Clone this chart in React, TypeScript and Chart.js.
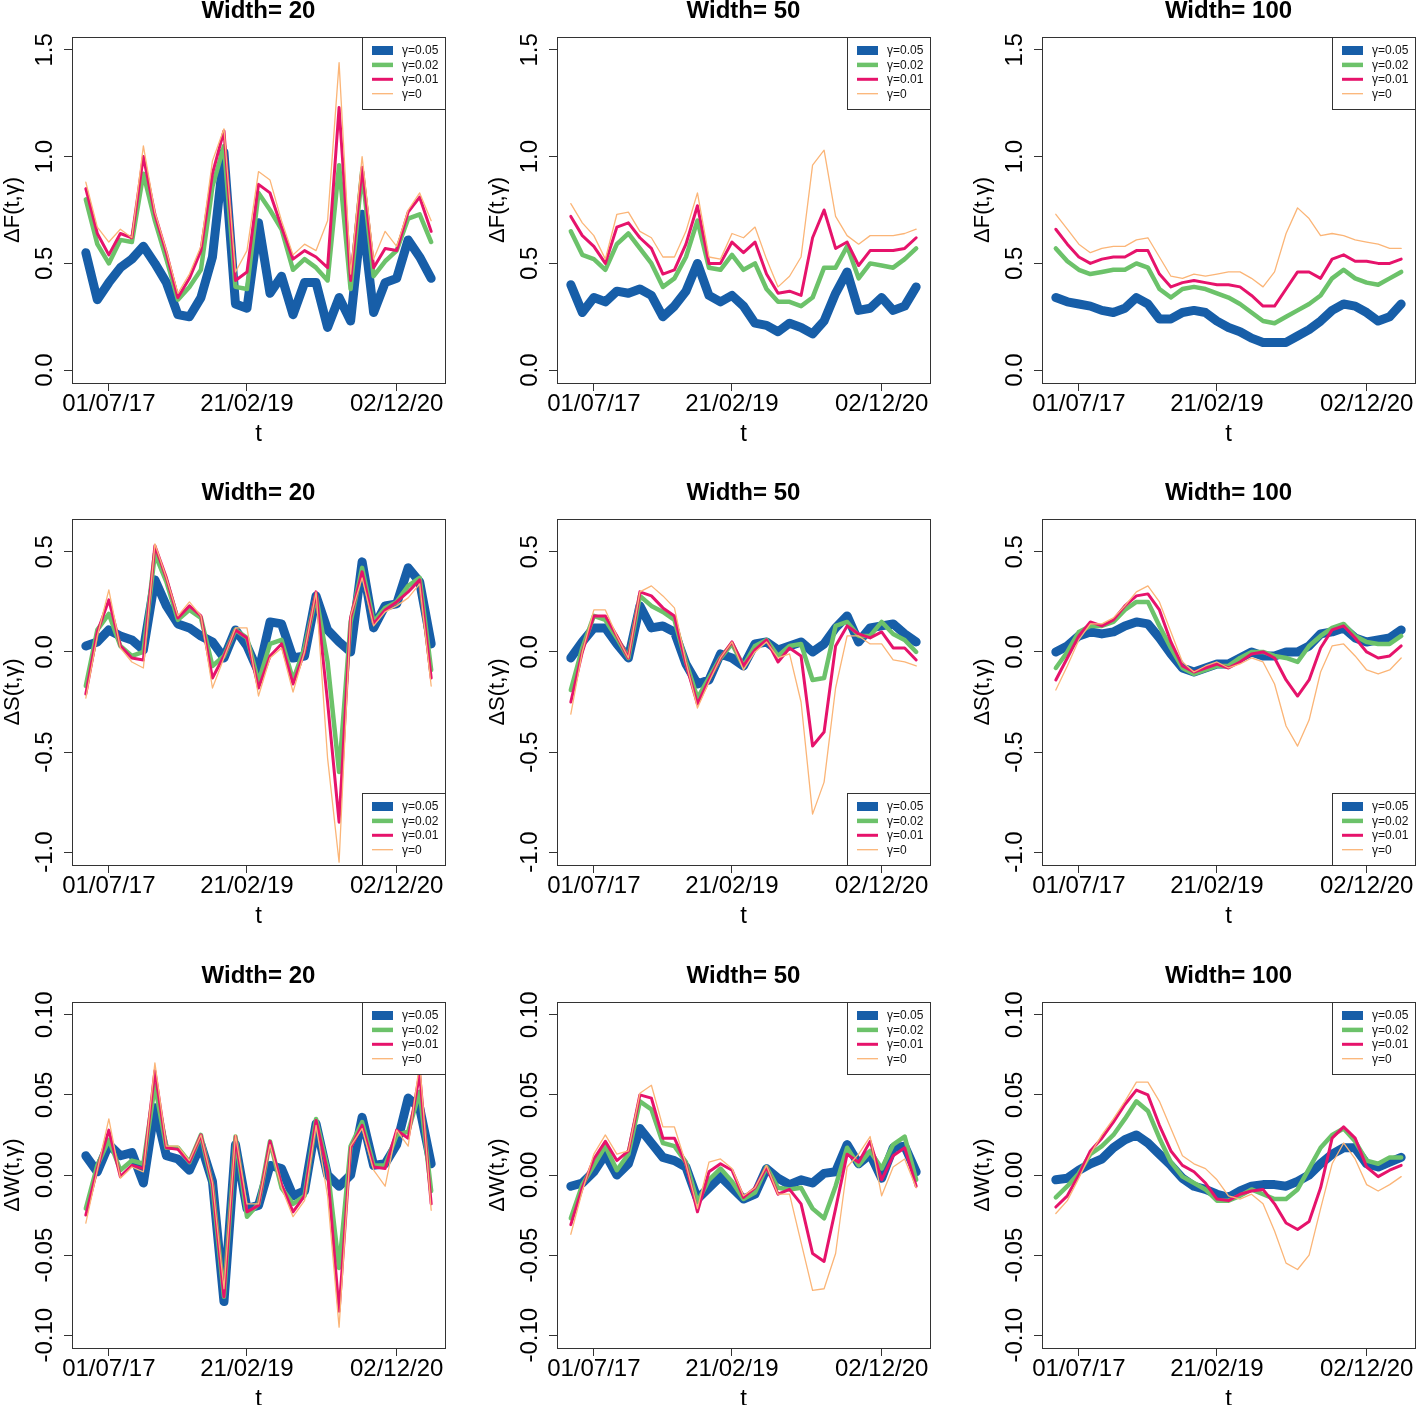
import React, { useEffect, useRef } from 'react';
import { Chart, registerables } from 'chart.js';

Chart.register(...registerables);

const FONT = '"Liberation Sans", Arial, Helvetica, sans-serif';
Chart.defaults.font.family = FONT;
Chart.defaults.color = '#000';

// ---------- categories / tick labels ----------
const T = [0, 1, 2, 3, 4, 5, 6, 7, 8, 9, 10, 11, 12, 13, 14, 15, 16, 17, 18, 19, 20, 21, 22, 23, 24, 25, 26, 27, 28, 29, 30];
const X_TICK_POS = [2, 14, 27];
const X_TICK_LABELS = ['01/07/17', '21/02/19', '02/12/20'];
const LEGEND_LABELS = ['γ=0.05', 'γ=0.02', 'γ=0.01', 'γ=0'];
const PANEL_TITLES = ['Width= 20', 'Width= 50', 'Width= 100'];
const Y_TITLES = ['ΔF(t,γ)', 'ΔS(t,γ)', 'ΔW(t,γ)'];
const X_TITLE = 't';

const F_TICKS = [0, 0.5, 1, 1.5];
const F_TICK_LABELS = ['0.0', '0.5', '1.0', '1.5'];
const F_LIM = [0, 1.5];
const S_TICKS = [-1, -0.5, 0, 0.5];
const S_TICK_LABELS = ['-1.0', '-0.5', '0.0', '0.5'];
const S_LIM = [-1, 0.6];
const W_TICKS = [-0.1, -0.05, 0, 0.05, 0.1];
const W_TICK_LABELS = ['-0.10', '-0.05', '0.00', '0.05', '0.10'];
const W_LIM = [-0.1, 0.1];

// ---------- ΔF ----------
const F20_G05 = [0.55, 0.33, 0.41, 0.48, 0.52, 0.58, 0.50, 0.41, 0.26, 0.25, 0.34, 0.53, 1.02, 0.31, 0.29, 0.69, 0.36, 0.44, 0.26, 0.41, 0.41, 0.20, 0.34, 0.23, 0.73, 0.27, 0.41, 0.43, 0.61, 0.53, 0.43];
const F20_G02 = [0.80, 0.59, 0.50, 0.61, 0.60, 0.92, 0.70, 0.52, 0.33, 0.39, 0.47, 0.86, 1.05, 0.39, 0.38, 0.83, 0.75, 0.66, 0.47, 0.52, 0.48, 0.42, 0.96, 0.38, 0.93, 0.44, 0.51, 0.56, 0.71, 0.73, 0.60];
const F20_G01 = [0.85, 0.64, 0.54, 0.64, 0.62, 1.00, 0.73, 0.55, 0.34, 0.43, 0.56, 0.92, 1.12, 0.42, 0.46, 0.87, 0.83, 0.67, 0.52, 0.56, 0.53, 0.48, 1.23, 0.42, 0.95, 0.48, 0.57, 0.56, 0.74, 0.81, 0.65];
const F20_G0 = [0.88, 0.67, 0.60, 0.66, 0.62, 1.05, 0.74, 0.56, 0.36, 0.45, 0.58, 0.98, 1.13, 0.46, 0.56, 0.93, 0.89, 0.70, 0.54, 0.59, 0.56, 0.70, 1.44, 0.45, 1.00, 0.52, 0.65, 0.58, 0.75, 0.83, 0.70];

const F50_G05 = [0.40, 0.27, 0.34, 0.32, 0.37, 0.36, 0.38, 0.35, 0.25, 0.30, 0.37, 0.50, 0.35, 0.32, 0.35, 0.30, 0.22, 0.21, 0.18, 0.22, 0.20, 0.17, 0.23, 0.36, 0.46, 0.28, 0.29, 0.34, 0.28, 0.30, 0.39];
const F50_G02 = [0.65, 0.54, 0.52, 0.47, 0.59, 0.64, 0.57, 0.50, 0.39, 0.43, 0.53, 0.70, 0.48, 0.47, 0.54, 0.47, 0.50, 0.38, 0.32, 0.32, 0.30, 0.34, 0.48, 0.48, 0.58, 0.43, 0.50, 0.49, 0.48, 0.52, 0.57];
const F50_G01 = [0.72, 0.63, 0.58, 0.50, 0.67, 0.69, 0.62, 0.57, 0.45, 0.47, 0.59, 0.77, 0.50, 0.50, 0.60, 0.55, 0.60, 0.45, 0.36, 0.37, 0.35, 0.62, 0.75, 0.57, 0.60, 0.49, 0.56, 0.56, 0.56, 0.57, 0.62];
const F50_G0 = [0.78, 0.69, 0.63, 0.52, 0.73, 0.74, 0.65, 0.62, 0.53, 0.53, 0.65, 0.83, 0.53, 0.52, 0.64, 0.62, 0.67, 0.52, 0.39, 0.44, 0.53, 0.96, 1.03, 0.72, 0.63, 0.59, 0.63, 0.63, 0.63, 0.64, 0.66];

const F100_G05 = [0.34, 0.32, 0.31, 0.30, 0.28, 0.27, 0.29, 0.34, 0.31, 0.24, 0.24, 0.27, 0.28, 0.27, 0.23, 0.20, 0.18, 0.15, 0.13, 0.13, 0.13, 0.16, 0.19, 0.23, 0.28, 0.31, 0.30, 0.27, 0.23, 0.25, 0.31];
const F100_G02 = [0.57, 0.51, 0.47, 0.45, 0.46, 0.47, 0.47, 0.50, 0.48, 0.38, 0.34, 0.38, 0.39, 0.38, 0.36, 0.34, 0.31, 0.27, 0.23, 0.22, 0.25, 0.28, 0.31, 0.35, 0.43, 0.47, 0.43, 0.41, 0.40, 0.43, 0.46];
const F100_G01 = [0.66, 0.59, 0.53, 0.50, 0.52, 0.53, 0.53, 0.56, 0.56, 0.45, 0.39, 0.41, 0.42, 0.41, 0.40, 0.40, 0.39, 0.35, 0.30, 0.30, 0.38, 0.46, 0.46, 0.43, 0.52, 0.54, 0.51, 0.51, 0.50, 0.50, 0.52];
const F100_G0 = [0.73, 0.66, 0.59, 0.55, 0.57, 0.58, 0.58, 0.61, 0.62, 0.53, 0.44, 0.43, 0.45, 0.44, 0.45, 0.46, 0.46, 0.43, 0.39, 0.46, 0.64, 0.76, 0.71, 0.63, 0.64, 0.63, 0.61, 0.60, 0.59, 0.57, 0.57];

// ---------- ΔS ----------
const S20_G05 = [0.03, 0.05, 0.11, 0.08, 0.06, 0.01, 0.36, 0.23, 0.14, 0.12, 0.08, 0.05, -0.03, 0.11, 0.03, -0.10, 0.15, 0.14, -0.03, -0.02, 0.28, 0.11, 0.05, 0.00, 0.45, 0.12, 0.23, 0.24, 0.42, 0.35, 0.04];
const S20_G02 = [-0.17, 0.11, 0.19, 0.03, -0.02, 0.00, 0.49, 0.35, 0.16, 0.21, 0.17, -0.07, -0.02, 0.11, 0.07, -0.15, 0.04, 0.06, -0.14, 0.02, 0.28, -0.05, -0.60, 0.15, 0.42, 0.15, 0.22, 0.25, 0.33, 0.37, -0.09];
const S20_G01 = [-0.21, 0.10, 0.26, 0.03, -0.03, -0.04, 0.53, 0.37, 0.17, 0.23, 0.18, -0.13, -0.02, 0.11, 0.07, -0.18, -0.02, 0.04, -0.16, 0.00, 0.30, -0.25, -0.85, 0.17, 0.40, 0.14, 0.21, 0.25, 0.30, 0.36, -0.13];
const S20_G0 = [-0.23, 0.08, 0.31, 0.02, -0.05, -0.08, 0.54, 0.37, 0.18, 0.25, 0.18, -0.18, -0.03, 0.12, 0.12, -0.22, -0.03, 0.02, -0.20, 0.00, 0.30, -0.53, -1.05, 0.18, 0.37, 0.13, 0.20, 0.23, 0.27, 0.34, -0.17];

const S50_G05 = [-0.03, 0.05, 0.12, 0.12, 0.04, -0.03, 0.23, 0.12, 0.13, 0.10, -0.06, -0.16, -0.14, -0.01, -0.03, -0.07, 0.04, 0.05, 0.01, 0.03, 0.05, 0.00, 0.04, 0.12, 0.18, 0.05, 0.12, 0.13, 0.14, 0.09, 0.05];
const S50_G02 = [-0.19, 0.02, 0.18, 0.16, 0.07, -0.03, 0.28, 0.23, 0.20, 0.16, -0.05, -0.23, -0.13, -0.03, 0.04, -0.07, 0.03, 0.06, -0.02, 0.03, 0.04, -0.14, -0.13, 0.13, 0.15, 0.08, 0.08, 0.15, 0.09, 0.06, 0.00];
const S50_G01 = [-0.25, 0.00, 0.18, 0.18, 0.08, -0.03, 0.30, 0.28, 0.22, 0.18, -0.06, -0.26, -0.14, -0.03, 0.05, -0.07, 0.01, 0.06, -0.05, 0.02, -0.02, -0.47, -0.40, 0.03, 0.13, 0.09, 0.07, 0.10, 0.02, 0.02, -0.04];
const S50_G0 = [-0.31, 0.00, 0.21, 0.21, 0.08, -0.03, 0.30, 0.33, 0.28, 0.22, -0.05, -0.28, -0.15, -0.03, 0.05, -0.09, 0.00, 0.05, -0.03, -0.01, -0.25, -0.81, -0.65, -0.18, 0.08, 0.08, 0.04, 0.04, -0.04, -0.05, -0.07];

const S100_G05 = [0.00, 0.03, 0.08, 0.10, 0.09, 0.10, 0.13, 0.15, 0.14, 0.07, -0.01, -0.08, -0.10, -0.08, -0.06, -0.06, -0.03, 0.00, -0.02, -0.02, 0.00, 0.00, 0.03, 0.09, 0.10, 0.12, 0.07, 0.05, 0.06, 0.07, 0.11];
const S100_G02 = [-0.08, 0.00, 0.10, 0.13, 0.13, 0.15, 0.21, 0.25, 0.25, 0.13, 0.02, -0.08, -0.11, -0.09, -0.07, -0.07, -0.03, 0.00, 0.00, -0.02, -0.03, -0.05, 0.03, 0.08, 0.12, 0.14, 0.08, 0.05, 0.04, 0.04, 0.08];
const S100_G01 = [-0.14, -0.03, 0.08, 0.15, 0.13, 0.16, 0.23, 0.28, 0.29, 0.21, 0.05, -0.07, -0.10, -0.08, -0.06, -0.08, -0.05, -0.01, 0.00, -0.03, -0.14, -0.22, -0.14, 0.02, 0.11, 0.13, 0.07, 0.00, -0.03, -0.02, 0.03];
const S100_G0 = [-0.19, -0.07, 0.06, 0.14, 0.14, 0.17, 0.23, 0.30, 0.33, 0.25, 0.10, -0.05, -0.10, -0.07, -0.05, -0.08, -0.06, -0.03, -0.05, -0.16, -0.37, -0.47, -0.34, -0.10, 0.03, 0.04, -0.02, -0.09, -0.11, -0.09, -0.03];

// ---------- ΔW ----------
const W20_G05 = [0.012, 0.002, 0.019, 0.012, 0.014, -0.005, 0.042, 0.012, 0.010, 0.003, 0.019, -0.004, -0.079, 0.019, -0.021, -0.019, 0.006, 0.004, -0.013, -0.010, 0.032, 0.000, -0.007, 0.000, 0.036, 0.006, 0.007, 0.019, 0.048, 0.042, 0.007];
const W20_G02 = [-0.021, 0.006, 0.022, 0.003, 0.009, 0.007, 0.056, 0.017, 0.017, 0.008, 0.025, -0.007, -0.076, 0.024, -0.026, -0.018, 0.021, -0.008, -0.018, -0.013, 0.035, 0.004, -0.058, 0.018, 0.033, 0.006, 0.006, 0.025, 0.027, 0.052, -0.010];
const W20_G01 = [-0.025, 0.004, 0.028, -0.001, 0.006, 0.004, 0.065, 0.017, 0.016, 0.008, 0.025, -0.006, -0.076, 0.024, -0.023, -0.019, 0.021, -0.006, -0.023, -0.013, 0.034, 0.002, -0.085, 0.017, 0.031, 0.005, 0.004, 0.028, 0.023, 0.063, -0.018];
const W20_G0 = [-0.030, 0.003, 0.035, -0.002, 0.005, 0.002, 0.070, 0.018, 0.018, 0.009, 0.025, -0.005, -0.071, 0.025, -0.018, -0.018, 0.019, -0.008, -0.026, -0.016, 0.031, -0.013, -0.095, 0.018, 0.029, 0.003, -0.007, 0.028, 0.018, 0.070, -0.022];

const W50_G05 = [-0.007, -0.005, 0.002, 0.013, 0.000, 0.007, 0.029, 0.020, 0.011, 0.009, 0.005, -0.015, -0.008, -0.001, -0.008, -0.015, -0.012, 0.004, -0.002, -0.006, -0.003, -0.005, 0.001, 0.002, 0.019, 0.007, 0.013, -0.002, 0.017, 0.018, 0.002];
const W50_G02 = [-0.027, -0.006, 0.006, 0.018, 0.003, 0.013, 0.046, 0.041, 0.020, 0.018, 0.008, -0.017, -0.003, 0.004, -0.004, -0.015, -0.011, 0.005, -0.008, -0.009, -0.008, -0.021, -0.027, -0.007, 0.017, 0.006, 0.015, 0.004, 0.019, 0.024, -0.003];
const W50_G01 = [-0.031, -0.008, 0.010, 0.021, 0.009, 0.015, 0.050, 0.048, 0.023, 0.023, 0.007, -0.023, 0.002, 0.007, 0.003, -0.014, -0.008, 0.005, -0.012, -0.009, -0.018, -0.049, -0.054, -0.021, 0.013, 0.008, 0.021, -0.003, 0.012, 0.017, -0.007];
const W50_G0 = [-0.037, -0.010, 0.013, 0.025, 0.013, 0.015, 0.051, 0.056, 0.030, 0.030, 0.007, -0.021, 0.008, 0.010, 0.004, -0.013, -0.008, 0.006, -0.012, -0.012, -0.042, -0.072, -0.071, -0.049, 0.005, 0.013, 0.024, -0.013, 0.005, 0.010, -0.008];

const W100_G05 = [-0.003, -0.002, 0.003, 0.007, 0.010, 0.017, 0.022, 0.025, 0.020, 0.013, 0.006, -0.002, -0.007, -0.009, -0.012, -0.014, -0.010, -0.007, -0.006, -0.006, -0.007, -0.004, 0.000, 0.007, 0.013, 0.017, 0.017, 0.007, 0.005, 0.008, 0.011];
const W100_G02 = [-0.014, -0.007, 0.001, 0.013, 0.018, 0.025, 0.035, 0.046, 0.040, 0.023, 0.008, -0.001, -0.005, -0.009, -0.016, -0.016, -0.013, -0.009, -0.012, -0.015, -0.015, -0.009, 0.004, 0.017, 0.025, 0.029, 0.021, 0.009, 0.007, 0.011, 0.011];
const W100_G01 = [-0.020, -0.013, 0.000, 0.015, 0.023, 0.033, 0.044, 0.053, 0.050, 0.031, 0.015, 0.006, 0.002, -0.005, -0.015, -0.016, -0.012, -0.010, -0.009, -0.018, -0.030, -0.034, -0.029, -0.008, 0.023, 0.030, 0.023, 0.005, -0.001, 0.003, 0.006];
const W100_G0 = [-0.024, -0.016, -0.002, 0.013, 0.025, 0.035, 0.046, 0.058, 0.058, 0.046, 0.029, 0.012, 0.007, 0.004, -0.003, -0.013, -0.015, -0.012, -0.018, -0.035, -0.055, -0.059, -0.050, -0.021, 0.007, 0.020, 0.010, -0.006, -0.010, -0.006, -0.001];

// ---------- styles ----------
const SERIES_COLORS = ['#175ea8', '#6cc26a', '#e6136b', '#fbb577'];
const SERIES_WIDTHS = [9, 4.5, 3, 1.3];

const CW = 446;
const CH = 445;
const COL_LEFT = [0, 485, 970];
const ROW_TOP = [0, 482, 965];
const Y_TICK_PAD = [1.5, -2.5, -9];

type RowSpec = {
  yTitle: string;
  ticks: number[];
  tickLabels: string[];
  lim: number[];
  legendAt: 'top' | 'bottom';
  series: number[][][];
};

const ROWS: RowSpec[] = [
  {
    yTitle: Y_TITLES[0], ticks: F_TICKS, tickLabels: F_TICK_LABELS, lim: F_LIM, legendAt: 'top',
    series: [
      [F20_G05, F20_G02, F20_G01, F20_G0],
      [F50_G05, F50_G02, F50_G01, F50_G0],
      [F100_G05, F100_G02, F100_G01, F100_G0],
    ],
  },
  {
    yTitle: Y_TITLES[1], ticks: S_TICKS, tickLabels: S_TICK_LABELS, lim: S_LIM, legendAt: 'bottom',
    series: [
      [S20_G05, S20_G02, S20_G01, S20_G0],
      [S50_G05, S50_G02, S50_G01, S50_G0],
      [S100_G05, S100_G02, S100_G01, S100_G0],
    ],
  },
  {
    yTitle: Y_TITLES[2], ticks: W_TICKS, tickLabels: W_TICK_LABELS, lim: W_LIM, legendAt: 'top',
    series: [
      [W20_G05, W20_G02, W20_G01, W20_G0],
      [W50_G05, W50_G02, W50_G01, W50_G0],
      [W100_G05, W100_G02, W100_G01, W100_G0],
    ],
  },
];

const framePlugin = {
  id: 'frame',
  afterDraw(chart: any, _args: any, opts: any) {
    const { ctx, chartArea: a } = chart;
    ctx.save();
    // legend
    const lw = 83;
    const lh = 72;
    const lx = Math.round(a.right - lw);
    const ly = opts.legendAt === 'top' ? Math.round(a.top) : Math.round(a.bottom - lh);
    ctx.fillStyle = '#fff';
    ctx.fillRect(lx, ly, lw, lh);
    ctx.strokeStyle = '#333';
    ctx.lineWidth = 1;
    ctx.strokeRect(lx + 0.5, ly + 0.5, lw, lh);
    chart.data.datasets.forEach((ds: any, k: number) => {
      const y = ly + 13.5 + k * 14.4;
      ctx.strokeStyle = ds.borderColor;
      ctx.lineWidth = ds.borderWidth;
      ctx.lineCap = 'butt';
      ctx.beginPath();
      ctx.moveTo(lx + 10, y);
      ctx.lineTo(lx + 31, y);
      ctx.stroke();
      ctx.fillStyle = '#111';
      ctx.font = '12px ' + FONT;
      ctx.textAlign = 'left';
      ctx.textBaseline = 'middle';
      ctx.fillText(ds.label, lx + 40, y + 0.5);
    });
    // plot frame
    ctx.strokeStyle = '#333';
    ctx.lineWidth = 1;
    ctx.strokeRect(Math.round(a.left) + 0.5, Math.round(a.top) + 0.5, Math.round(a.right - a.left), Math.round(a.bottom - a.top));
    // title
    ctx.fillStyle = '#000';
    ctx.font = 'bold 24px ' + FONT;
    ctx.textAlign = 'center';
    ctx.textBaseline = 'alphabetic';
    ctx.fillText(opts.title, (a.left + a.right) / 2, a.top - 19);
    ctx.restore();
  },
};

function Panel({ row, col }: { row: number; col: number }) {
  const ref = useRef<HTMLCanvasElement>(null);
  useEffect(() => {
    const canvas = ref.current;
    if (!canvas) return;
    const spec = ROWS[row];
    const series = spec.series[col];
    const span = spec.lim[1] - spec.lim[0];
    const xSpan = T[T.length - 1] - T[0];
    const chart = new Chart(canvas, {
      type: 'line',
      data: {
        datasets: series.map((vals, k) => ({
          label: LEGEND_LABELS[k],
          data: vals.map((v, i) => ({ x: T[i], y: v })),
          borderColor: SERIES_COLORS[k],
          backgroundColor: SERIES_COLORS[k],
          borderWidth: SERIES_WIDTHS[k],
          pointRadius: 0,
          tension: 0,
          fill: false,
          borderJoinStyle: 'round',
          borderCapStyle: 'round',
          order: 3 - k,
        })),
      },
      options: {
        animation: false,
        responsive: false,
        events: [],
        layout: { padding: { top: 37, right: 1, left: 0, bottom: 0 } },
        plugins: {
          legend: { display: false },
          tooltip: { enabled: false },
          title: { display: false },
          frame: { title: PANEL_TITLES[col], legendAt: spec.legendAt },
        } as any,
        scales: {
          x: {
            type: 'linear',
            min: T[0] - 0.04 * xSpan,
            max: T[T.length - 1] + 0.04 * xSpan,
            afterBuildTicks: (s: any) => {
              s.ticks = X_TICK_POS.map((v) => ({ value: v }));
            },
            afterFit: (s: any) => {
              s.height = 62;
            },
            ticks: {
              autoSkip: false,
              maxRotation: 0,
              minRotation: 0,
              padding: -1,
              color: '#000',
              font: { size: 24, family: FONT },
              callback: (_v: any, i: number) => X_TICK_LABELS[i],
            },
            grid: { drawOnChartArea: false, drawTicks: true, tickLength: 8, color: '#333', lineWidth: 1 },
            border: { display: false },
            title: { display: true, text: X_TITLE, color: '#000', font: { size: 24, family: FONT }, padding: { top: 0, bottom: -4 } },
          },
          y: {
            type: 'linear',
            min: spec.lim[0] - 0.04 * span,
            max: spec.lim[1] + 0.04 * span,
            afterBuildTicks: (s: any) => {
              s.ticks = spec.ticks.map((v) => ({ value: v }));
            },
            afterFit: (s: any) => {
              s.width = 72;
            },
            ticks: {
              autoSkip: false,
              minRotation: 90,
              maxRotation: 90,
              crossAlign: 'center',
              padding: Y_TICK_PAD[row],
              color: '#000',
              font: { size: 24, family: FONT },
              callback: (_v: any, i: number) => spec.tickLabels[i],
            },
            grid: { drawOnChartArea: false, drawTicks: true, tickLength: 8, color: '#333', lineWidth: 1 },
            border: { display: false },
            title: { display: true, text: spec.yTitle, color: '#000', font: { size: 22, family: FONT }, padding: { top: 0, bottom: 0 } },
          },
        },
      } as any,
      plugins: [framePlugin],
    });
    return () => chart.destroy();
  }, [row, col]);
  return (
    <canvas
      ref={ref}
      width={CW}
      height={CH}
      style={{ position: 'absolute', left: COL_LEFT[col], top: ROW_TOP[row], width: CW, height: CH }}
    />
  );
}

export default function App() {
  const cells: { row: number; col: number }[] = [];
  for (let r = 0; r < 3; r++) for (let c = 0; c < 3; c++) cells.push({ row: r, col: c });
  return (
    <div style={{ position: 'absolute', left: 0, top: 0, width: 1416, height: 1405, overflow: 'hidden', background: '#fff' }}>
      {cells.map((p) => (
        <Panel key={`${p.row}-${p.col}`} row={p.row} col={p.col} />
      ))}
    </div>
  );
}
